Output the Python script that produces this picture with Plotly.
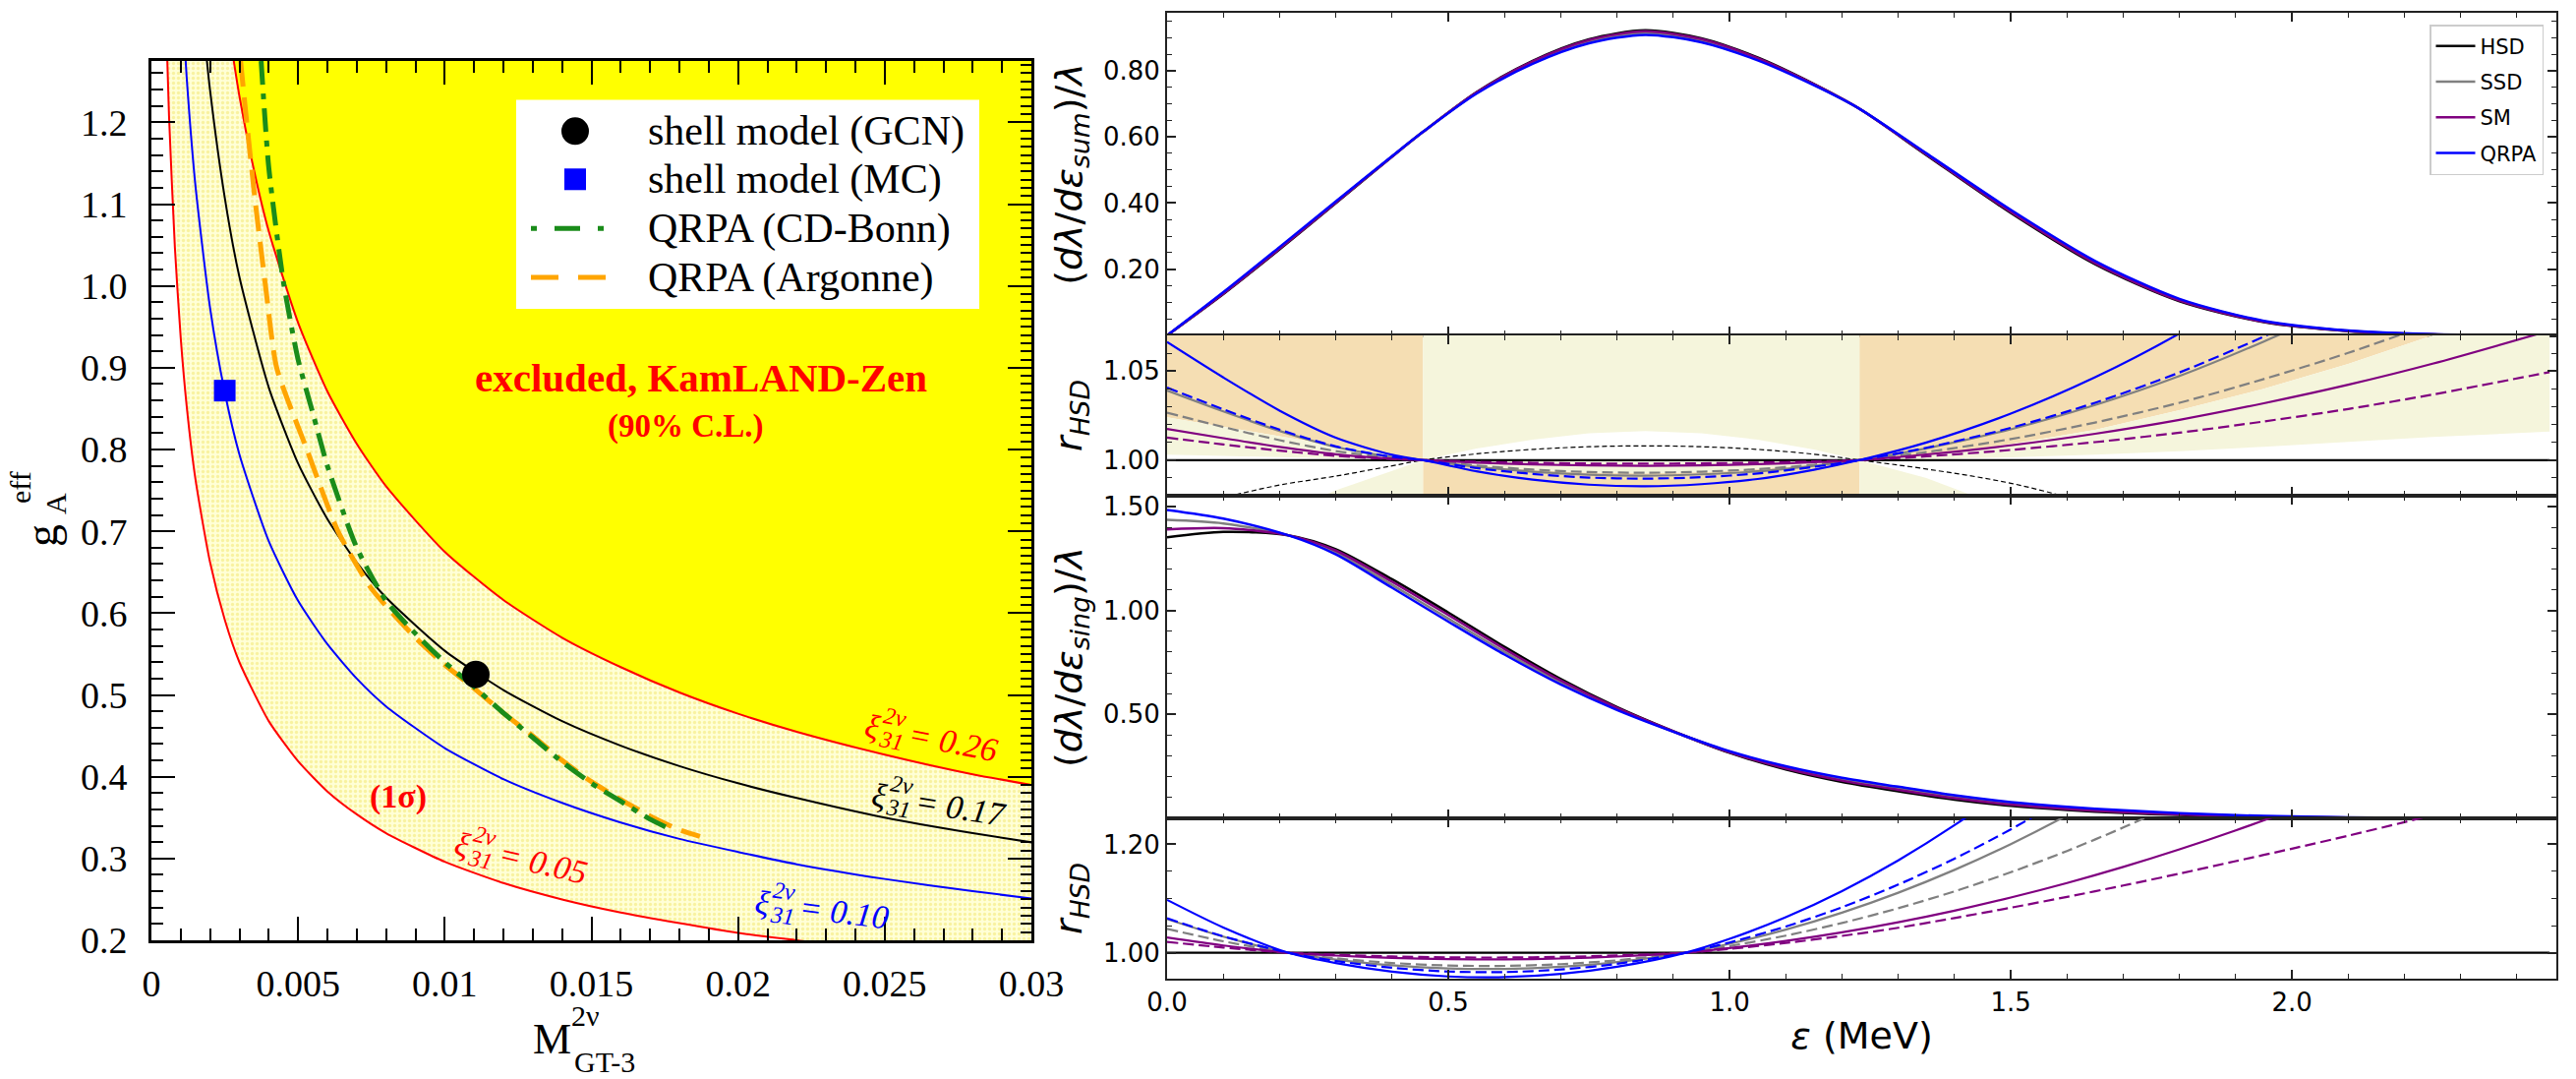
import math
import plotly.graph_objects as go

W, H = 2620, 1097
SERIF = "Liberation Serif"
SANS = "DejaVu Sans"


def fx(p):
    return p / W


def fy(p):
    return 1 - p / H


# ---------------------------------------------------------------------------
# Left panel: effective g_A versus M^{2nu}_{GT-3}
# ---------------------------------------------------------------------------
# xi31 = 0.05 (lower edge of the 1 sigma band)
M_lo = [0.0005, 0.0006, 0.0008, 0.001, 0.0012, 0.0015, 0.002, 0.0025, 0.003, 0.004, 0.005, 0.006,
        0.007, 0.008, 0.010, 0.012, 0.014, 0.016, 0.018, 0.020, 0.022, 0.025, 0.0305]
g_lo = [1.324, 1.208, 1.047, 0.936, 0.854, 0.764, 0.662, 0.592, 0.540, 0.468, 0.419, 0.382,
        0.354, 0.331, 0.296, 0.270, 0.250, 0.234, 0.221, 0.209, 0.200, 0.187, 0.170]
# xi31 = 0.10
M_blu = [0.001, 0.0012, 0.0015, 0.002, 0.0025, 0.003, 0.004, 0.005, 0.006, 0.007, 0.008, 0.010,
         0.012, 0.014, 0.016, 0.018, 0.020, 0.022, 0.025, 0.028, 0.0305]
g_blu = [1.376, 1.256, 1.123, 0.973, 0.870, 0.794, 0.688, 0.615, 0.562, 0.520, 0.486, 0.435,
         0.397, 0.368, 0.344, 0.324, 0.308, 0.293, 0.275, 0.260, 0.249]
# xi31 = 0.17
M_blk = [0.0017, 0.002, 0.0025, 0.003, 0.004, 0.005, 0.006, 0.007, 0.008, 0.010, 0.012, 0.014,
         0.016, 0.018, 0.020, 0.022, 0.025, 0.028, 0.0305]
g_blk = [1.344, 1.239, 1.108, 1.011, 0.876, 0.783, 0.715, 0.662, 0.619, 0.554, 0.506, 0.468,
         0.438, 0.413, 0.392, 0.374, 0.350, 0.331, 0.317]
# xi31 = 0.26 (KamLAND-Zen 90% C.L. bound)
M_hi = [0.0026, 0.003, 0.0035, 0.004, 0.005, 0.006, 0.007, 0.008, 0.010, 0.012, 0.014, 0.016,
        0.018, 0.020, 0.022, 0.025, 0.028, 0.0305]
g_hi = [1.324, 1.232, 1.141, 1.067, 0.955, 0.871, 0.807, 0.755, 0.675, 0.616, 0.570, 0.534,
        0.503, 0.477, 0.455, 0.427, 0.403, 0.387]
# QRPA predictions
M_cdb = [0.00374, 0.0040, 0.0045, 0.0050, 0.0055, 0.0060, 0.0070, 0.0080, 0.0090, 0.0100,
         0.0110, 0.0120, 0.0130, 0.0140, 0.0150, 0.0160, 0.0170, 0.0178]
g_cdb = [1.275, 1.145, 1.005, 0.910, 0.845, 0.780, 0.680, 0.615, 0.575, 0.540,
         0.510, 0.478, 0.448, 0.418, 0.392, 0.370, 0.348, 0.334]
M_arg = [0.00304, 0.00325, 0.00355, 0.00389, 0.00427, 0.0053, 0.00636, 0.0075, 0.0090, 0.0100,
         0.0110, 0.0120, 0.0130, 0.0140, 0.0150, 0.0160, 0.0170, 0.0180, 0.0187]
g_arg = [1.275, 1.200, 1.100, 1.000, 0.900, 0.800, 0.700, 0.630, 0.570, 0.537,
         0.508, 0.478, 0.450, 0.420, 0.394, 0.372, 0.352, 0.335, 0.327]
# shell-model points
gcn_M, gcn_g = [0.01106], [0.525]
mc_M, mc_g = [0.0025], [0.872]

# ---------------------------------------------------------------------------
# Right panels: summed and single electron spectra and ratios to HSD
# ---------------------------------------------------------------------------
E_sum = [0.0, 0.1, 0.2, 0.3, 0.4, 0.455, 0.55, 0.65, 0.75, 0.85, 0.95, 1.05, 1.15, 1.231,
         1.35, 1.5, 1.65, 1.8, 1.95, 2.1, 2.25, 2.458]
sum_HSD = [0.0, 0.125, 0.26, 0.40, 0.54, 0.615, 0.735, 0.83, 0.895, 0.922, 0.898, 0.84, 0.76,
           0.685, 0.545, 0.37, 0.215, 0.103, 0.04, 0.013, 0.003, 0.0]
rsum_SSD = [1.039, 1.0273, 1.0164, 1.0074, 1.0018, 1.0, 0.9963, 0.9935, 0.9918, 0.9913, 0.992,
            0.9937, 0.9968, 1.0, 1.0066, 1.0173, 1.0309, 1.0472, 1.0666, 1.0882, 1.1128, 1.1517]
rsum_SSD_d = [1.0266, 1.0186, 1.0112, 1.0051, 1.0012, 1.0, 0.997, 0.9947, 0.9933, 0.9929, 0.9935,
              0.9949, 0.9974, 1.0, 1.0045, 1.0118, 1.0211, 1.0322, 1.0455, 1.0602, 1.077, 1.1035]
rsum_SM = [1.0175, 1.0123, 1.0074, 1.0033, 1.0008, 1.0, 0.9986, 0.9976, 0.997, 0.9968, 0.9971,
           0.9977, 0.9988, 1.0, 1.0032, 1.0083, 1.0148, 1.0226, 1.0319, 1.0423, 1.0541, 1.0727]
rsum_SM_d = [1.0126, 1.0088, 1.0053, 1.0024, 1.0006, 1.0, 0.9991, 0.9985, 0.9981, 0.998, 0.9982,
             0.9986, 0.9993, 1.0, 1.0021, 1.0057, 1.0101, 1.0154, 1.0217, 1.0287, 1.0368, 1.0494]
rsum_QRPA = [1.0663, 1.0464, 1.0278, 1.0126, 1.003, 1.0, 0.9937, 0.989, 0.9862, 0.9853, 0.9865,
             0.9894, 0.9946, 1.0, 1.0099, 1.0261, 1.0465, 1.0711, 1.0999, 1.1328, 1.1699, 1.2283]
rsum_QRPA_d = [1.0407, 1.0285, 1.0171, 1.0077, 1.0018, 1.0, 0.9955, 0.9922, 0.9902, 0.9896, 0.9904,
               0.9925, 0.9962, 1.0, 1.0069, 1.0181, 1.0322, 1.0492, 1.0694, 1.0919, 1.1176, 1.158]
# shaded bands in the summed-spectrum ratio panel
band_top = [1.024, 1.0187, 1.0134, 1.0081, 1.0028, 1.0, 0.997, 0.9945, 0.993, 0.9925, 0.9932,
            0.995, 0.9975, 1.0, 1.003, 1.009, 1.017, 1.028, 1.040, 1.054, 1.07, 1.095]
band_mid = [1.003, 1.0023, 1.0017, 1.001, 1.0003, 1.0, 0.9997, 0.9994, 0.9992, 0.9991, 0.9992,
            0.9994, 0.9997, 1.0, 1.0005, 1.0015, 1.003, 1.005, 1.0075, 1.0102, 1.013, 1.016]
band_low = [0.945, 0.957, 0.970, 0.983, 0.994, 1.0, 1.0065, 1.0115, 1.015, 1.0163, 1.015,
            1.0115, 1.006, 1.0, 0.99, 0.972, 0.95, 0.925, 0.9, 0.87, 0.84, 0.8]
rsum_ref = [0.972, 0.979, 0.986, 0.991, 0.9968, 1.0, 1.0035, 1.006, 1.0075, 1.008, 1.0075,
            1.006, 1.0033, 1.0, 0.995, 0.987, 0.975, 0.962, 0.95, 0.94, 0.93, 0.92]

E_sing = [0.0, 0.1, 0.215, 0.3, 0.4, 0.5, 0.6, 0.7, 0.8, 0.922, 1.0, 1.1, 1.2, 1.3, 1.4, 1.5,
          1.6, 1.7, 1.8, 1.9, 2.0, 2.1, 2.2, 2.3, 2.458]
sing_HSD = [1.352, 1.378, 1.362, 1.295, 1.15, 0.99, 0.825, 0.67, 0.535, 0.395, 0.315, 0.235,
            0.175, 0.13, 0.09, 0.06, 0.04, 0.026, 0.016, 0.009, 0.005, 0.0025, 0.001, 0.0004, 0.0]
rsing_QRPA = [1.0975, 1.0465, 1.0, 0.9807, 0.9648, 0.9561, 0.9548, 0.9607, 0.974, 1.0, 1.0254,
              1.0655, 1.1138, 1.1704, 1.2354, 1.3087, 1.3903, 1.4802, 1.5784, 1.6849, 1.7997,
              1.9229, 2.0543, 2.1941, 2.4318]
rsing_QRPA_d = [1.0634, 1.0302, 1.0, 0.9847, 0.9721, 0.9652, 0.9642, 0.9689, 0.9794, 1.0, 1.0188,
                1.0483, 1.0839, 1.1257, 1.1736, 1.2276, 1.2878, 1.3541, 1.4265, 1.5051, 1.5898,
                1.6806, 1.7775, 1.8806, 2.056]
rsing_SSD = [1.062, 1.0296, 1.0, 0.9873, 0.9767, 0.971, 0.9701, 0.9741, 0.9828, 1.0, 1.0165,
             1.0425, 1.0739, 1.1107, 1.1529, 1.2005, 1.2535, 1.3119, 1.3757, 1.4449, 1.5195,
             1.5995, 1.6849, 1.7757, 1.9302]
rsing_SSD_d = [1.044, 1.021, 1.0, 0.9896, 0.981, 0.9763, 0.9756, 0.9788, 0.9859, 1.0, 1.0122,
               1.0315, 1.0548, 1.082, 1.1133, 1.1485, 1.1878, 1.2311, 1.2783, 1.3296, 1.3848,
               1.4441, 1.5074, 1.5746, 1.6891]
rsing_SM = [1.028, 1.0133, 1.0, 0.9947, 0.9903, 0.988, 0.9876, 0.9892, 0.9929, 1.0, 1.0084,
            1.0216, 1.0375, 1.0562, 1.0776, 1.1018, 1.1286, 1.1583, 1.1907, 1.2258, 1.2636,
            1.3042, 1.3475, 1.3936, 1.472]
rsing_SM_d = [1.020, 1.0095, 1.0, 0.9962, 0.993, 0.9913, 0.9911, 0.9922, 0.9949, 1.0, 1.007,
              1.018, 1.031, 1.046, 1.064, 1.083, 1.103, 1.124, 1.146, 1.169, 1.192, 1.216, 1.241,
              1.268, 1.315]

models = ["HSD", "SSD", "SM", "QRPA"]
colors = {"HSD": "#000000", "SSD": "#808080", "SM": "#800080", "QRPA": "#0000FF"}

fig = go.Figure()
nohover = dict(hoverinfo="skip", showlegend=False)

# ---------------- left panel ----------------
fig.add_trace(go.Scatter(
    x=M_lo + M_hi[::-1], y=g_lo + g_hi[::-1], fill="toself", mode="none",
    fillcolor="#FFFFD0",
    fillpattern=dict(shape=".", fgcolor="#F2E56A", bgcolor="#FFFFD6", size=5, solidity=0.35),
    xaxis="x", yaxis="y", **nohover))
fig.add_trace(go.Scatter(
    x=M_hi + [0.0305, M_hi[0]], y=g_hi + [1.5, 1.5], fill="toself", mode="none",
    fillcolor="#FFFF00", xaxis="x", yaxis="y", **nohover))

spl = dict(shape="spline", smoothing=0.6)
for mx, gy, col in [(M_lo, g_lo, "#FF0000"), (M_hi, g_hi, "#FF0000"),
                    (M_blu, g_blu, "#0000FF"), (M_blk, g_blk, "#000000")]:
    fig.add_trace(go.Scatter(x=mx, y=gy, mode="lines", line=dict(color=col, width=2, **spl),
                             xaxis="x", yaxis="y", **nohover))
fig.add_trace(go.Scatter(x=M_arg, y=g_arg, mode="lines",
                         line=dict(color="#FFA500", width=5, dash="26px,11px", **spl),
                         xaxis="x", yaxis="y", **nohover))
fig.add_trace(go.Scatter(x=M_cdb, y=g_cdb, mode="lines",
                         line=dict(color="#1A8C1A", width=5, dash="24px,9px,6px,9px", **spl),
                         xaxis="x", yaxis="y", **nohover))
fig.add_trace(go.Scatter(x=gcn_M, y=gcn_g, mode="markers",
                         marker=dict(symbol="circle", size=28, color="black"),
                         xaxis="x", yaxis="y", **nohover))
fig.add_trace(go.Scatter(x=mc_M, y=mc_g, mode="markers",
                         marker=dict(symbol="square", size=22, color="#0000FF"),
                         xaxis="x", yaxis="y", **nohover))
# empty trace that registers the right-hand tick axis of the left frame
fig.add_trace(go.Scatter(x=[], y=[], mode="lines", xaxis="x", yaxis="y6", **nohover))

# ---------------- right panels ----------------
# panel 1: x2/y2, panel 2: x3/y3, panel 3: x4/y4, panel 4: x5/y5
ori, bei = "#F5DEB3", "#F5F5DC"
segs = [(0, 5, 1), (5, 13, -1), (13, 21, 1)]
for a, b, s in segs:
    xs = E_sum[a:b + 1]
    far = 1.2 if s > 0 else 0.9
    fig.add_trace(go.Scatter(x=xs + [xs[-1], xs[0]], y=band_top[a:b + 1] + [far, far],
                             fill="toself", mode="none", fillcolor=ori,
                             xaxis="x3", yaxis="y3", **nohover))
fig.add_trace(go.Scatter(x=E_sum + E_sum[::-1], y=band_top + band_mid[::-1], fill="toself",
                         mode="none", fillcolor=bei, xaxis="x3", yaxis="y3", **nohover))
for a, b, s in segs:
    xs = E_sum[a:b + 1]
    far = 0.9 if s > 0 else 1.2
    fig.add_trace(go.Scatter(x=xs + [xs[-1], xs[0]], y=band_low[a:b + 1] + [far, far],
                             fill="toself", mode="none", fillcolor=bei,
                             xaxis="x3", yaxis="y3", **nohover))
fig.add_trace(go.Scatter(x=E_sum, y=rsum_ref, mode="lines",
                         line=dict(color="black", width=1.2, dash="5px,3px", shape="spline"),
                         xaxis="x3", yaxis="y3", **nohover))

sum_r = {"HSD": [1.0] * len(E_sum), "SSD": rsum_SSD, "SM": rsum_SM, "QRPA": rsum_QRPA}
sum_rd = {"SSD": rsum_SSD_d, "SM": rsum_SM_d, "QRPA": rsum_QRPA_d}
sing_r = {"HSD": [1.0] * len(E_sing), "SSD": rsing_SSD, "SM": rsing_SM, "QRPA": rsing_QRPA}
sing_rd = {"SSD": rsing_SSD_d, "SM": rsing_SM_d, "QRPA": rsing_QRPA_d}

rspl = dict(shape="spline", smoothing=0.8)
for m in models:
    ysum = [h * r for h, r in zip(sum_HSD, sum_r[m])]
    fig.add_trace(go.Scatter(x=E_sum, y=ysum, mode="lines", name=m,
                             line=dict(color=colors[m], width=2.5, **rspl),
                             xaxis="x2", yaxis="y2", legendgroup=m, hoverinfo="skip"))
    ysing = [h * r for h, r in zip(sing_HSD, sing_r[m])]
    fig.add_trace(go.Scatter(x=E_sing, y=ysing, mode="lines",
                             line=dict(color=colors[m], width=2.5, **rspl),
                             xaxis="x4", yaxis="y4", **nohover))

for m in models:
    if m in sum_rd:
        fig.add_trace(go.Scatter(x=E_sum, y=sum_rd[m], mode="lines",
                                 line=dict(color=colors[m], width=2.2, dash="11px,5px", **rspl),
                                 xaxis="x3", yaxis="y3", **nohover))
        fig.add_trace(go.Scatter(x=E_sing, y=sing_rd[m], mode="lines",
                                 line=dict(color=colors[m], width=2.2, dash="11px,5px", **rspl),
                                 xaxis="x5", yaxis="y5", **nohover))
    fig.add_trace(go.Scatter(x=E_sum, y=sum_r[m], mode="lines",
                             line=dict(color=colors[m], width=2.2, **rspl),
                             xaxis="x3", yaxis="y3", **nohover))
    fig.add_trace(go.Scatter(x=E_sing, y=sing_r[m], mode="lines",
                             line=dict(color=colors[m], width=2.2, **rspl),
                             xaxis="x5", yaxis="y5", **nohover))

# ---------------- axes ----------------
L_dom_x = [fx(154), fx(1049)]
L_dom_y = [fy(956), fy(62)]
R_dom_x = [fx(1187), fx(2600)]
P = {2: [fy(341), fy(13)], 3: [fy(504), fy(341)], 4: [fy(832), fy(504)], 5: [fy(995), fy(832)]}

serif_tick = dict(family=SERIF, size=38, color="black")
left_common = dict(showgrid=False, zeroline=False, showline=True, linecolor="black", linewidth=3,
                   ticks="inside", ticklen=24, tickwidth=2, tickcolor="black",
                   tickfont=serif_tick, automargin=False)
fig.update_layout(
    xaxis=dict(domain=L_dom_x, anchor="y", range=[0, 0.03], tick0=0, dtick=0.005,
               mirror="ticks",
               minor=dict(dtick=0.001, ticklen=12, tickwidth=1.5, tickcolor="black", ticks="inside"),
               ticklabelstandoff=8, **left_common),
    yaxis=dict(domain=L_dom_y, anchor="x", range=[0.2, 1.275], tick0=0.2, dtick=0.1,
               tickformat=".1f", mirror=True,
               minor=dict(dtick=0.02, ticklen=12, tickwidth=1.5, tickcolor="black", ticks="inside"),
               ticklabelstandoff=14, **left_common),
    # right edge of the left frame carries a finer tick set
    yaxis6=dict(overlaying="y", side="right", anchor="x", range=[0.2, 1.275], tick0=0.2,
                dtick=0.1, showticklabels=False, showgrid=False, zeroline=False,
                showline=False, ticks="inside", ticklen=24, tickwidth=2, tickcolor="black",
                minor=dict(dtick=0.01, ticklen=11, tickwidth=1.5, tickcolor="black",
                           ticks="inside"),
                automargin=False),
)

sans_tick = dict(family=SANS, size=26, color="black")
title_font = dict(family=SANS, size=38, color="black")
right_x = dict(domain=R_dom_x, range=[0, 2.47], tick0=0, dtick=0.5, tickformat=".1f",
               showgrid=False, zeroline=False, showline=True, linecolor="#222222", linewidth=2,
               mirror="ticks", ticks="inside", ticklen=9, tickwidth=1.5, tickcolor="#222222",
               minor=dict(dtick=0.1, ticklen=5, tickwidth=1, tickcolor="#222222", ticks="inside"),
               tickfont=sans_tick, automargin=False)
for k in [2, 3, 4, 5]:
    if k != 5:
        extra = dict(showticklabels=False, matches="x5")
    else:
        extra = dict(title=dict(text="<i>ε</i> (MeV)", font=title_font, standoff=6))
    fig.update_layout(**{f"xaxis{k}": dict(anchor=f"y{k}", **right_x, **extra)})

right_y = dict(showgrid=False, zeroline=False, showline=True, linecolor="#222222",
               linewidth=2, mirror="ticks", ticks="inside", ticklen=9, tickwidth=1.5,
               tickcolor="#222222", tickformat=".2f", tickfont=sans_tick, automargin=False)
ycfg = {
    2: dict(range=[0, 0.975], tickvals=[0.2, 0.4, 0.6, 0.8], minor_d=0.05, minor0=0,
            title="(<i>dλ</i>/<i>dε</i><sub><i>sum</i></sub>)/<i>λ</i>"),
    3: dict(range=[0.98, 1.07], tickvals=[1.0, 1.05], minor_d=0.01, minor0=1.0,
            title="<i>r</i><sub><i>HSD</i></sub>"),
    4: dict(range=[0, 1.552], tickvals=[0.5, 1.0, 1.5], minor_d=0.1, minor0=0,
            title="(<i>dλ</i>/<i>dε</i><sub><i>sing</i></sub>)/<i>λ</i>"),
    5: dict(range=[0.952, 1.248], tickvals=[1.0, 1.2], minor_d=0.05, minor0=1.0,
            title="<i>r</i><sub><i>HSD</i></sub>"),
}
for k, c in ycfg.items():
    d = dict(right_y)
    d.update(domain=P[k], anchor=f"x{k}", range=c["range"], tickvals=c["tickvals"],
             minor=dict(tick0=c["minor0"], dtick=c["minor_d"], ticklen=5, tickwidth=1,
                        tickcolor="#222222", ticks="inside"),
             title=dict(text=c["title"], font=title_font, standoff=10))
    fig.update_layout(**{f"yaxis{k}": d})

# ---------------- left panel legend, labels and titles ----------------
shapes = []
annotations = []


def dx_(p):
    return (p - 154) / 895 * 0.03


def dy_(p):
    return 0.2 + (956 - p) / 833


shapes.append(dict(type="rect", xref="x", yref="y", x0=dx_(525), x1=dx_(996), y0=dy_(313),
                   y1=dy_(100), fillcolor="white", line=dict(width=0), layer="above"))
shapes.append(dict(type="circle", xref="x", yref="y", xsizemode="pixel", ysizemode="pixel",
                   xanchor=dx_(585), yanchor=dy_(132), x0=-14, x1=14, y0=-14, y1=14,
                   fillcolor="black", line=dict(width=0), layer="above"))
shapes.append(dict(type="rect", xref="x", yref="y", xsizemode="pixel", ysizemode="pixel",
                   xanchor=dx_(585), yanchor=dy_(181), x0=-11, x1=11, y0=-11, y1=11,
                   fillcolor="#0000FF", line=dict(width=0), layer="above"))
shapes.append(dict(type="line", xref="x", yref="y", x0=dx_(540), x1=dx_(616), y0=dy_(231),
                   y1=dy_(231), line=dict(color="#1A8C1A", width=5, dash="6px,18px,26px,18px"),
                   layer="above"))
shapes.append(dict(type="line", xref="x", yref="y", x0=dx_(540), x1=dx_(616), y0=dy_(281),
                   y1=dy_(281), line=dict(color="#FFA500", width=5, dash="28px,20px"),
                   layer="above"))
for txt, yy in [("shell model (GCN)", 132), ("shell model (MC)", 181),
                ("QRPA (CD-Bonn)", 231), ("QRPA (Argonne)", 281)]:
    annotations.append(dict(x=dx_(657), y=dy_(yy), xref="x", yref="y", text=txt,
                            showarrow=False, xanchor="left", yanchor="middle",
                            font=dict(family=SERIF, size=42, color="black")))

annotations.append(dict(x=dx_(713), y=dy_(383), xref="x", yref="y",
                        text="<b>excluded, KamLAND-Zen</b>", showarrow=False,
                        xanchor="center", yanchor="middle",
                        font=dict(family=SERIF, size=41, color="#FF0000")))
annotations.append(dict(x=dx_(697), y=dy_(433), xref="x", yref="y", text="<b>(90% C.L.)</b>",
                        showarrow=False, xanchor="center", yanchor="middle",
                        font=dict(family=SERIF, size=33, color="#FF0000")))
annotations.append(dict(x=dx_(405), y=dy_(810), xref="x", yref="y", text="<b>(1σ)</b>",
                        showarrow=False, xanchor="center", yanchor="middle",
                        font=dict(family=SERIF, size=34, color="#FF0000")))


def xi_label(x, y, value, color, angle, F=34, s=24):
    th = math.radians(angle)
    parts = [("ξ", 0, 0, F), ("2ν", 21, -14, s), ("31", 21.5, 11, s),
             ("= " + value, 84, 0, F)]
    for txt, u, v, size in parts:
        ddx = u * math.cos(th) - v * math.sin(th)
        ddy = u * math.sin(th) + v * math.cos(th)
        annotations.append(dict(x=x, y=y, xref="x", yref="y", text=txt, showarrow=False,
                                textangle=angle, xanchor="center", yanchor="middle",
                                xshift=ddx, yshift=-ddy,
                                font=dict(family=SERIF, size=size, color=color, style="italic")))


xi_label(0.02457, 0.4617, "0.26", "#FF0000", 11)
xi_label(0.02482, 0.3779, "0.17", "#000000", 9)
xi_label(0.0106, 0.3172, "0.05", "#FF0000", 13)
xi_label(0.02082, 0.2461, "0.10", "#0000FF", 7)


def paper_text(x, y, text, size, angle=0, xanchor="center"):
    annotations.append(dict(x=fx(x), y=fy(y), xref="paper", yref="paper", text=text,
                            showarrow=False, textangle=angle, xanchor=xanchor,
                            yanchor="middle", font=dict(family=SERIF, size=size, color="black")))


# x title of the left panel: M with stacked 2nu / GT-3
paper_text(561, 1056, "M", 44)
paper_text(579, 1032, "2ν", 30, xanchor="left")
paper_text(582, 1079, "GT-3", 30, xanchor="left")
# y title of the left panel: g with stacked eff / A
paper_text(42, 545, "g", 46, angle=-90)
paper_text(56, 512, "A", 30, angle=-90)
paper_text(20, 496, "eff", 30, angle=-90)

fig.update_layout(
    width=W, height=H, autosize=False, margin=dict(l=0, r=0, t=0, b=0),
    paper_bgcolor="white", plot_bgcolor="white",
    shapes=shapes, annotations=annotations,
    legend=dict(x=fx(2587), y=fy(25), xanchor="right", yanchor="top",
                bgcolor="rgba(255,255,255,0.9)", bordercolor="#CCCCCC", borderwidth=1.5,
                font=dict(family=SANS, size=21, color="black"), tracegroupgap=6,
                itemwidth=40),
)

fig.write_html("out.html")
